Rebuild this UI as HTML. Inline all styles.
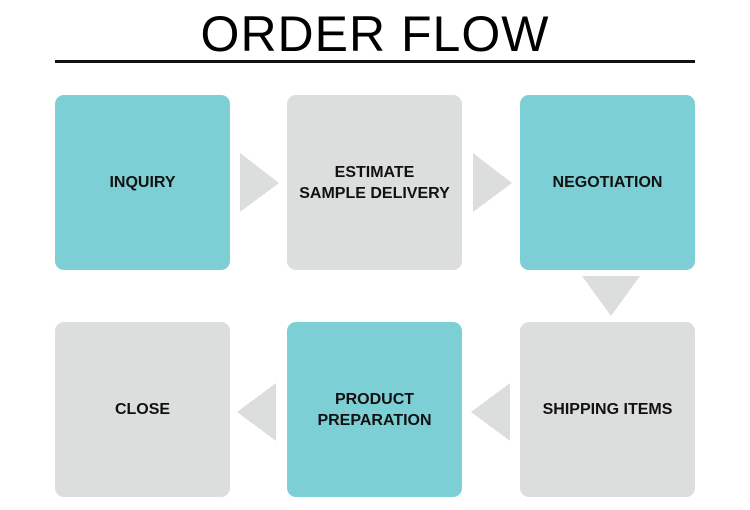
<!DOCTYPE html>
<html><head><style>
body{margin:0;width:750px;height:510px;background:#fff;position:relative;overflow:hidden;font-family:"Liberation Sans",Arial,sans-serif}
.t{position:absolute;left:0;width:750px;top:5px;text-align:center;font-size:50px;color:#000;letter-spacing:1px}
.line{position:absolute;left:55px;top:60px;width:640px;height:3px;background:#111}
.b{position:absolute;width:175px;height:175px;border-radius:9px;display:flex;align-items:center;justify-content:center;text-align:center;font-weight:bold;font-size:16px;line-height:21px;color:#111}
.tl{background:#7dcfd6}.g{background:#dcdddd}
</style></head><body>
<div class="t">ORDER FLOW</div>
<div class="line"></div>
<div class="b tl" style="left:55px;top:95px">INQUIRY</div>
<div class="b g" style="left:287px;top:95px">ESTIMATE<br>SAMPLE DELIVERY</div>
<div class="b tl" style="left:520px;top:95px">NEGOTIATION</div>
<div class="b g" style="left:55px;top:322px">CLOSE</div>
<div class="b tl" style="left:287px;top:322px">PRODUCT<br>PREPARATION</div>
<div class="b g" style="left:520px;top:322px">SHIPPING ITEMS</div>
<svg width="750" height="510" style="position:absolute;left:0;top:0">
<g fill="#dcdddd">
<polygon points="240,153 240,212 279,183"/>
<polygon points="473,153 473,212 512,183"/>
<polygon points="582,276 640,276 611,316"/>
<polygon points="510,383 510,441 471,412"/>
<polygon points="276,383 276,441 237,412"/>
</g></svg>
</body></html>
